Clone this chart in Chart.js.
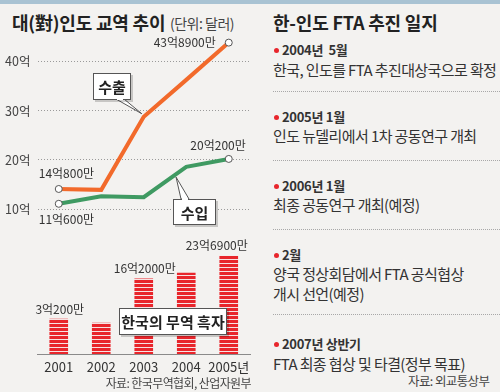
<!DOCTYPE html>
<html>
<head>
<meta charset="utf-8">
<script src="https://cdn.jsdelivr.net/npm/chart.js@4.4.0/dist/chart.umd.min.js"></script>
<style>
  body { margin: 0; width: 500px; height: 392px; overflow: hidden; position: relative; background: #f3f2f0; font-family: "Noto Sans CJK KR", sans-serif; color: #333; }
  .topbar { position: absolute; left: 0; top: 0; width: 500px; height: 4px; background: #a9c3d3; }
  .abs { position: absolute; white-space: nowrap; line-height: 18px; }
  .title { font-size: 18px; font-weight: bold; color: #222; letter-spacing: -0.2px; line-height: 20px; }
  .unit { font-size: 14px; color: #444; letter-spacing: -0.5px; }
  .date { font-size: 13px; font-weight: bold; color: #333; letter-spacing: -0.3px; font-family: "Liberation Sans Narrow", "Noto Sans CJK KR", sans-serif; }
  .date::before { content: ""; display: inline-block; width: 5px; height: 5px; border-radius: 50%; background: #e8262c; margin-right: 3px; vertical-align: 2px; }
  .desc { font-size: 15px; color: #333; letter-spacing: -0.6px; line-height: 20px; }
  .sep { position: absolute; left: 273px; width: 227px; height: 0; border-top: 1px dotted #a8a8a8; }
  .src { font-size: 12px; color: #444; letter-spacing: -0.6px; }
  #wrap { position: absolute; left: 0; top: 0; width: 255px; height: 392px; }
</style>
</head>
<body>
<div class="topbar"></div>
<div class="abs title" style="left:12px; top:12px;">대(對)인도 교역 추이</div>
<div class="abs unit" style="left:170px; top:14px;">(단위: 달러)</div>

<div id="wrap"><canvas id="chart" width="255" height="392"></canvas></div>
<div class="abs src" style="right:249px; top:374px;">자료: 한국무역협회, 산업자원부</div>

<div class="abs title" style="left:273px; top:12px;">한-인도 FTA 추진 일지</div>
<div class="abs date" style="left:274px; top:41px;">2004년&nbsp; 5월</div>
<div class="abs desc" style="left:273px; top:60px;">한국, 인도를 FTA 추진대상국으로 확정</div>
<div class="sep" style="top:91px;"></div>
<div class="abs date" style="left:274px; top:108px;">2005년 1월</div>
<div class="abs desc" style="left:273px; top:126px;">인도 뉴델리에서 1차 공동연구 개최</div>
<div class="sep" style="top:160px;"></div>
<div class="abs date" style="left:274px; top:177px;">2006년 1월</div>
<div class="abs desc" style="left:273px; top:195px;">최종 공동연구 개최(예정)</div>
<div class="sep" style="top:229px;"></div>
<div class="abs date" style="left:274px; top:246px;">2월</div>
<div class="abs desc" style="left:273px; top:264px;">양국 정상회담에서 FTA 공식협상</div>
<div class="abs desc" style="left:273px; top:284px;">개시 선언(예정)</div>
<div class="sep" style="top:314px;"></div>
<div class="abs date" style="left:274px; top:335px;">2007년 상반기</div>
<div class="abs desc" style="left:273px; top:354px;">FTA 최종 협상 및 타결(정부 목표)</div>
<div class="abs src" style="left:408px; top:372px; font-size:12.5px;">자료: 외교통상부</div>

<script>
const years = ['2001', '2002', '2003', '2004', '2005년'];
const exportVals = [14.08, 13.9, 28.8, 36.3, 43.89];
const importVals = [11.06, 12.6, 12.4, 18.6, 20.2];
const surplusVals = [3.02, 1.7, 16.2, 18.1, 23.69];
const yTicks = [10, 20, 30, 40];
const exportLabels = ['14억800만', '', '', '', '43억8900만'];
const importLabels = ['11억600만', '', '', '', '20억200만'];
const surplusLabels = ['3억200만', '', '16억2000만', '', '23억6900만'];

// the trade-surplus bars sit on their own (hidden) axis, not to scale with the lines
const SURPLUS_MIN = -8.46;
const SURPLUS_MAX = 97.8;

const numFont = '"Liberation Sans Narrow", "Noto Sans CJK KR", sans-serif';

function stripes() {
  const c = document.createElement('canvas');
  c.width = 4; c.height = 4;
  const g = c.getContext('2d');
  g.fillStyle = '#f7e2e2';
  g.fillRect(0, 0, 4, 4);
  g.fillStyle = '#e8252b';
  g.fillRect(0, 0, 4, 3);
  return g.createPattern(c, 'repeat');
}

function callout(g, box, text, tip, base) {
  g.save();
  // pointer
  g.beginPath();
  g.moveTo(base[0], base[1]);
  g.lineTo(tip[0], tip[1]);
  g.lineTo(base[2], base[3]);
  g.closePath();
  g.fillStyle = '#fff';
  g.fill();
  g.strokeStyle = '#555';
  g.lineWidth = 1;
  g.stroke();
  // shadow + box
  g.fillStyle = 'rgba(0,0,0,0.18)';
  g.fillRect(box[0] + 2, box[1] + 2, box[2], box[3]);
  g.fillStyle = '#fff';
  g.fillRect(box[0], box[1], box[2], box[3]);
  g.strokeRect(box[0] + 0.5, box[1] + 0.5, box[2] - 1, box[3] - 1);
  // cover pointer join
  g.beginPath();
  g.moveTo(base[0] + 1, base[1]);
  g.lineTo(base[2] - 1, base[3]);
  g.strokeStyle = '#fff';
  g.lineWidth = 2;
  g.stroke();
  g.fillStyle = '#222';
  g.font = 'bold 15px "Noto Sans CJK KR", sans-serif';
  g.textAlign = 'center';
  g.textBaseline = 'middle';
  g.fillText(text, box[0] + box[2] / 2, box[1] + box[3] / 2 + 1);
  g.restore();
}

const labelPlugin = {
  id: 'labels',
  afterDatasetsDraw(chart) {
    const g = chart.ctx;
    const ex = chart.getDatasetMeta(0).data;
    const im = chart.getDatasetMeta(1).data;
    const bars = chart.getDatasetMeta(2).data;
    g.save();
    g.font = '12px ' + numFont;
    g.fillStyle = '#333';
    g.textBaseline = 'middle';

    // first/last point labels
    g.textAlign = 'left';
    g.fillText(exportLabels[0], ex[0].x - 20, ex[0].y - 16);
    g.fillText(importLabels[0], im[0].x - 20, im[0].y + 16);
    g.textAlign = 'right';
    g.fillText(exportLabels[4], ex[4].x - 13, ex[4].y);
    g.fillText(importLabels[4], im[4].x + 17, im[4].y - 13);

    // bar labels
    bars.forEach((b, i) => {
      if (!surplusLabels[i]) return;
      if (i === 4) {
        g.textAlign = 'right';
        g.fillText(surplusLabels[i], b.x + 19, b.y - 11);
      } else {
        g.textAlign = 'center';
        g.fillText(surplusLabels[i], b.x + 1, b.y - 10);
      }
    });
    g.restore();

    // callouts
    callout(g, [93, 73, 38, 27], '수출', [ex[2].x - 2, ex[2].y - 3], [116, 99, 124, 99]);
    const tx = im[2].x + (im[3].x - im[2].x) * 0.76;
    const ty = im[2].y + (im[3].y - im[2].y) * 0.76 + 3;
    callout(g, [173, 199, 43, 26], '수입', [tx, ty], [181, 199, 189, 199]);
    callout(g, [119, 308, 108, 27], '한국의 무역 흑자', [173, 321], [173, 321, 173, 321]);
  }
};

const ctx = document.getElementById('chart').getContext('2d');
new Chart(ctx, {
  data: {
    labels: years,
    datasets: [
      {
        type: 'line',
        label: '수출',
        data: exportVals,
        borderColor: '#f26a2b',
        borderWidth: 4,
        tension: 0,
        pointRadius: [3.5, 0, 0, 0, 3.5],
        pointBackgroundColor: '#fff',
        pointBorderColor: '#555',
        pointBorderWidth: 1,
        yAxisID: 'y',
        order: 1
      },
      {
        type: 'line',
        label: '수입',
        data: importVals,
        borderColor: '#3f9a62',
        borderWidth: 4,
        tension: 0,
        pointRadius: [3.5, 0, 0, 0, 3.5],
        pointBackgroundColor: '#fff',
        pointBorderColor: '#555',
        pointBorderWidth: 1,
        yAxisID: 'y',
        order: 2
      },
      {
        type: 'bar',
        label: '무역 흑자',
        data: surplusVals,
        backgroundColor: stripes(),
        barThickness: 18,
        base: SURPLUS_MIN,
        yAxisID: 'y2',
        order: 3
      }
    ]
  },
  options: {
    responsive: false,
    animation: false,
    layout: { padding: { top: 30, right: 2.5, bottom: 18, left: 0 } },
    plugins: { legend: { display: false }, tooltip: { enabled: false } },
    scales: {
      x: {
        offset: true,
        grid: { display: false, drawTicks: false },
        border: { color: '#8a8a8a', width: 1 },
        ticks: { color: '#333', font: { family: numFont, size: 13 }, padding: 5, maxRotation: 0, minRotation: 0, autoSkip: false },
        afterFit: s => { s.height = 20; }
      },
      y: {
        min: -19.53,
        max: 46.46,
        afterBuildTicks: s => { s.ticks = yTicks.map(v => ({ value: v })); },
        ticks: { callback: v => v + '억', color: '#444', font: { family: numFont, size: 12.5 }, padding: 7 },
        grid: { color: '#9a9a9a', drawTicks: false },
        border: { display: false, dash: [1, 2] },
        afterFit: s => { s.width = 37.5; }
      },
      y2: {
        display: false,
        min: SURPLUS_MIN,
        max: SURPLUS_MAX
      }
    }
  },
  plugins: [labelPlugin]
});
</script>
</body>
</html>
